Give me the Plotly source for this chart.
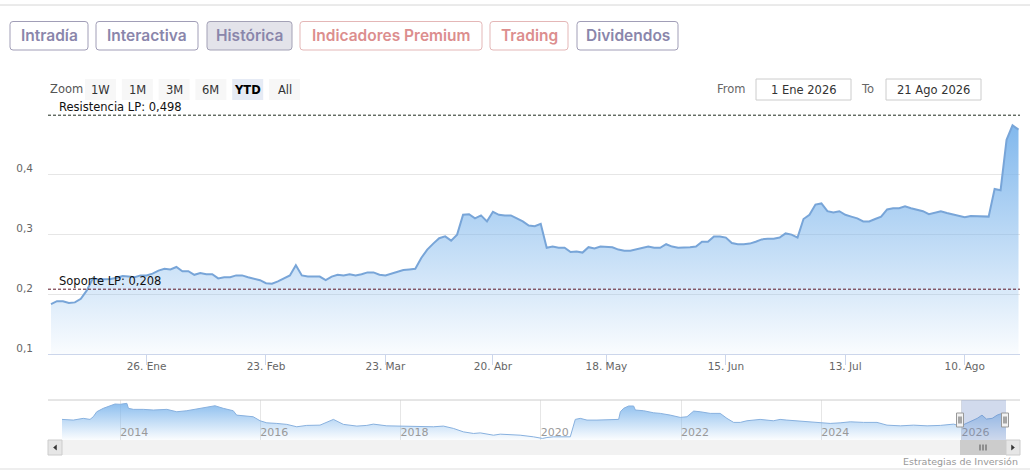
import plotly.graph_objects as go
import pandas as pd

W, H = 1034, 476
FONT = "DejaVu Sans"
TAB_FONT = "Inter"

# ------------------------------------------------------------------ data
HOLIDAYS = ["2026-01-01", "2026-04-03", "2026-04-06", "2026-05-01"]
SESSIONS = [d.strftime("%Y-%m-%d") for d in pd.bdate_range("2026-01-02", "2026-08-21")
            if d.strftime("%Y-%m-%d") not in HOLIDAYS]

PRICE = [
    0.183, 0.188, 0.188, 0.185, 0.186, 0.192, 0.206, 0.226, 0.224, 0.224,
    0.225, 0.227, 0.230, 0.229, 0.228, 0.231, 0.231, 0.234, 0.239, 0.242,
    0.241, 0.245, 0.238, 0.238, 0.232, 0.235, 0.233, 0.233, 0.226, 0.228,
    0.228, 0.231, 0.231, 0.228, 0.226, 0.223, 0.218, 0.217, 0.221, 0.226,
    0.231, 0.248, 0.231, 0.229, 0.229, 0.229, 0.223, 0.229, 0.232, 0.231,
    0.233, 0.231, 0.233, 0.236, 0.236, 0.232, 0.231, 0.234, 0.238, 0.240,
    0.241, 0.242, 0.260, 0.274, 0.284, 0.293, 0.296, 0.289, 0.299, 0.332,
    0.333, 0.326, 0.331, 0.321, 0.337, 0.332, 0.331, 0.331, 0.326, 0.321,
    0.314, 0.313, 0.317, 0.277, 0.279, 0.277, 0.277, 0.270, 0.271, 0.269,
    0.278, 0.276, 0.279, 0.279, 0.278, 0.274, 0.272, 0.272, 0.274, 0.276,
    0.279, 0.277, 0.277, 0.283, 0.279, 0.277, 0.277, 0.278, 0.279, 0.287,
    0.287, 0.296, 0.296, 0.294, 0.285, 0.283, 0.283, 0.284, 0.287, 0.291,
    0.292, 0.292, 0.294, 0.301, 0.299, 0.294, 0.325, 0.332, 0.349, 0.351,
    0.338, 0.336, 0.338, 0.332, 0.329, 0.326, 0.321, 0.321, 0.325, 0.329,
    0.341, 0.343, 0.343, 0.346, 0.343, 0.341, 0.338, 0.333, 0.336, 0.338,
    0.335, 0.333, 0.331, 0.328, 0.330, 0.330, 0.329, 0.329, 0.375, 0.373,
    0.457, 0.481, 0.474,
]

X_TICK_DATES = ["2026-01-26", "2026-02-23", "2026-03-23", "2026-04-20",
                "2026-05-18", "2026-06-15", "2026-07-13", "2026-08-10"]
X_TICK_TEXT = ["26. Ene", "23. Feb", "23. Mar", "20. Abr",
               "18. May", "15. Jun", "13. Jul", "10. Ago"]
Y_TICKS = [0.1, 0.2, 0.3, 0.4]
Y_TICK_TEXT = ["0,1", "0,2", "0,3", "0,4"]

RESISTANCE = 0.498
SUPPORT = 0.208
RESISTANCE_LABEL = "Resistencia LP: 0,498"
SUPPORT_LABEL = "Soporte LP: 0,208"

NAV_DATES = [
    "2013-03-04", "2013-05-02", "2013-06-23", "2013-07-28", "2013-08-14", "2013-09-01",
    "2013-10-05", "2013-11-09", "2013-12-05", "2014-01-01", "2014-02-05", "2014-02-13",
    "2014-03-11", "2014-05-02", "2014-06-23", "2014-09-01", "2014-10-23", "2014-12-14",
    "2015-02-22", "2015-05-10", "2015-06-22", "2015-08-13", "2015-08-31", "2015-10-04",
    "2015-11-25", "2015-12-31", "2016-02-04", "2016-03-27", "2016-05-18", "2016-07-09",
    "2016-08-30", "2016-11-07", "2017-01-16", "2017-03-09", "2017-05-18", "2017-07-09",
    "2017-08-12", "2017-10-21", "2017-12-30", "2018-02-20", "2018-06-21", "2018-08-12",
    "2018-10-03", "2018-11-24", "2019-01-16", "2019-02-20", "2019-04-30", "2019-06-04",
    "2019-08-12", "2019-09-16", "2019-11-24", "2020-01-10", "2020-02-02", "2020-03-07",
    "2020-06-03", "2020-06-29", "2020-07-25", "2020-08-29", "2020-10-20", "2020-12-11",
    "2021-02-10", "2021-02-19", "2021-03-08", "2021-04-03", "2021-04-29", "2021-05-08",
    "2021-06-20", "2021-08-11", "2021-09-15", "2021-11-06", "2021-12-11", "2021-12-28",
    "2022-02-01", "2022-03-08", "2022-04-11", "2022-06-02", "2022-07-24", "2022-08-28",
    "2022-10-02", "2022-11-06", "2022-12-10", "2023-02-17", "2023-04-27", "2023-06-01",
    "2023-07-06", "2023-08-27", "2023-11-05", "2023-12-27", "2024-02-17", "2024-04-09",
    "2024-06-01", "2024-08-09", "2024-10-18", "2024-12-09", "2025-02-17", "2025-04-27",
    "2025-07-06", "2025-09-13", "2025-11-21", "2025-12-27", "2026-02-17", "2026-03-24",
    "2026-04-18", "2026-05-11", "2026-06-10", "2026-07-06", "2026-07-31", "2026-08-12",
    "2026-08-21",
]
NAV_VALUES = [
    0.270, 0.262, 0.282, 0.270, 0.301, 0.359, 0.399, 0.426, 0.449, 0.446,
    0.457, 0.399, 0.387, 0.387, 0.379, 0.387, 0.359, 0.371, 0.399, 0.429,
    0.399, 0.371, 0.320, 0.309, 0.301, 0.254, 0.230, 0.223, 0.212, 0.184,
    0.200, 0.203, 0.270, 0.212, 0.192, 0.200, 0.215, 0.195, 0.192, 0.195,
    0.184, 0.192, 0.165, 0.125, 0.106, 0.113, 0.086, 0.098, 0.095, 0.086,
    0.067, 0.048, 0.059, 0.067, 0.067, 0.270, 0.282, 0.262, 0.262, 0.262,
    0.270, 0.359, 0.399, 0.426, 0.426, 0.379, 0.371, 0.347, 0.340, 0.320,
    0.301, 0.293, 0.301, 0.367, 0.359, 0.340, 0.340, 0.282, 0.235, 0.235,
    0.254, 0.270, 0.254, 0.270, 0.262, 0.254, 0.242, 0.235, 0.223, 0.230,
    0.242, 0.235, 0.235, 0.203, 0.195, 0.203, 0.195, 0.200, 0.215, 0.192,
    0.242, 0.282, 0.320, 0.274, 0.282, 0.320, 0.340, 0.332, 0.344,
]
NAV_YEAR_TICKS = ["2014-01-01", "2016-01-01", "2018-01-01", "2020-01-01",
                  "2022-01-01", "2024-01-01", "2026-01-01"]
NAV_YEAR_TEXT = ["2014", "2016", "2018", "2020", "2022", "2024", "2026"]
SELECTED_FROM = "2026-01-01"

TABS = ["Intradía", "Interactiva", "Histórica", "Indicadores Premium", "Trading", "Dividendos"]
TAB_KIND = ["lav", "lav", "active", "sal", "sal", "lav"]
ZOOM_BUTTONS = ["1W", "1M", "3M", "6M", "YTD", "All"]
ZOOM_SELECTED = "YTD"
FROM_TEXT = "1 Ene 2026"
TO_TEXT = "21 Ago 2026"
CREDIT = "Estrategias de Inversión"

# ------------------------------------------------------------------ layout helpers (pixels -> paper)
def X(px):
    return px / W


def Y(py):
    return 1 - py / H


shapes = []
annotations = []


def rect(x0, y0, x1, y1, fill, line=None, lw=1):
    shapes.append(dict(type="rect", xref="paper", yref="paper",
                       x0=X(x0), x1=X(x1), y0=Y(y1), y1=Y(y0),
                       fillcolor=fill, line=dict(color=line or fill, width=lw if line else 0),
                       layer="above"))


def rrect(x0, y0, x1, y1, r, fill, line, lw=1):
    p = (f"M {X(x0 + r)},{Y(y0)} L {X(x1 - r)},{Y(y0)} Q {X(x1)},{Y(y0)} {X(x1)},{Y(y0 + r)} "
         f"L {X(x1)},{Y(y1 - r)} Q {X(x1)},{Y(y1)} {X(x1 - r)},{Y(y1)} "
         f"L {X(x0 + r)},{Y(y1)} Q {X(x0)},{Y(y1)} {X(x0)},{Y(y1 - r)} "
         f"L {X(x0)},{Y(y0 + r)} Q {X(x0)},{Y(y0)} {X(x0 + r)},{Y(y0)} Z")
    shapes.append(dict(type="path", xref="paper", yref="paper", path=p,
                       fillcolor=fill, line=dict(color=line, width=lw), layer="above"))


def hline(x0, x1, py, color, width=1, dash=None):
    shapes.append(dict(type="line", xref="paper", yref="paper",
                       x0=X(x0), x1=X(x1), y0=Y(py), y1=Y(py),
                       line=dict(color=color, width=width, dash=dash), layer="above"))


def vline(px, y0, y1, color, width=1):
    shapes.append(dict(type="line", xref="paper", yref="paper",
                       x0=X(px), x1=X(px), y0=Y(y0), y1=Y(y1),
                       line=dict(color=color, width=width), layer="above"))


def tri(points, color):
    p = "M " + " L ".join(f"{X(a)},{Y(b)}" for a, b in points) + " Z"
    shapes.append(dict(type="path", xref="paper", yref="paper", path=p,
                       fillcolor=color, line=dict(color=color, width=0.5), layer="above"))


def text(px, py, s, size, color, anchor="left", family=FONT, weight="normal"):
    annotations.append(dict(x=X(px), y=Y(py), xref="paper", yref="paper", text=s,
                            showarrow=False, xanchor=anchor, yanchor="middle",
                            font=dict(family=family, size=size, color=color, weight=weight)))


# ------------------------------------------------------------------ figure
PLOT_L, PLOT_R = 48, 1020
PLOT_T, PLOT_B = 114, 354
NAV_L, NAV_R = 62, 1006
NAV_T, NAV_B = 400, 440

fig = go.Figure()

fig.add_trace(go.Scatter(
    x=SESSIONS, y=PRICE, mode="lines", xaxis="x", yaxis="y",
    line=dict(color="#78a5d8", width=2),
    fill="tozeroy",
    fillgradient=dict(type="vertical", start=0.1, stop=0.5,
                      colorscale=[[0, "rgba(124,181,236,0.04)"], [1, "rgba(124,181,236,1)"]]),
    hoverinfo="skip",
))

fig.add_trace(go.Scatter(
    x=NAV_DATES, y=NAV_VALUES, mode="lines", xaxis="x2", yaxis="y2",
    line=dict(color="#88b1df", width=1),
    fill="tozeroy",
    fillgradient=dict(type="vertical", start=0.03, stop=0.496,
                      colorscale=[[0, "rgba(124,181,236,0.03)"], [1, "rgba(124,181,236,0.95)"]]),
    hoverinfo="skip",
))

# support / resistance plot lines
for val, col in [(RESISTANCE, "#1d2b1d"), (SUPPORT, "#5e1626")]:
    shapes.append(dict(type="line", xref="x domain", yref="y", x0=0, x1=1, y0=val, y1=val,
                       line=dict(color=col, width=1, dash="3px,2px"), layer="above"))
text(57, 107, RESISTANCE_LABEL, 11.5, "#111")
text(57, 281, SUPPORT_LABEL, 11.5, "#111")

# top separator + tabs
hline(0, 1030, 5, "#d6d6d6")
TAB_X = [(10, 88), (96, 198), (207, 292), (300, 482), (490, 568), (577, 678)]
for label, kind, (a, b) in zip(TABS, TAB_KIND, TAB_X):
    if kind == "sal":
        rrect(a, 21.5, b, 50, 3, "white", "#e4b7b7")
        col = "#dc8e8e"
    elif kind == "active":
        rrect(a, 21.5, b, 50, 3, "#e3e3ea", "#a3a1b6")
        col = "#8a86ab"
    else:
        rrect(a, 21.5, b, 50, 3, "white", "#a19eb7")
        col = "#8a86ab"
    text((a + b) / 2, 36, label, 15.5, col, anchor="center", family=TAB_FONT, weight=600)

# range selector
text(48, 89, "Zoom", 11.5, "#555")
for k, lab in enumerate(ZOOM_BUTTONS):
    cx = 100.5 + 36.8 * k
    sel = lab == ZOOM_SELECTED
    rect(cx - 15.5, 79, cx + 15.5, 100, "#e6ebf5" if sel else "#f7f7f7")
    text(cx, 89.5, f"<b>{lab}</b>" if sel else lab, 11.5, "#000" if sel else "#333", anchor="center")

text(748, 89, "From", 11.5, "#666", anchor="right")
rect(756, 79, 851, 100, "white", "#cccccc")
text(803.5, 89.5, FROM_TEXT, 11.5, "#333", anchor="center")
text(876, 89, "To", 11.5, "#666", anchor="right")
rect(886, 79, 981, 100, "white", "#cccccc")
text(933.5, 89.5, TO_TEXT, 11.5, "#333", anchor="center")

# navigator chrome
hline(PLOT_L, PLOT_R, NAV_T, "#cccccc")
shapes.append(dict(type="rect", xref="x2", yref="paper", x0=SELECTED_FROM, x1=NAV_DATES[-1],
                   y0=Y(NAV_B), y1=Y(NAV_T), fillcolor="rgba(102,133,194,0.3)",
                   line=dict(width=0), layer="above"))
for hx in (960, 1005):
    rect(hx - 3.5, 413, hx + 3.5, 427, "#f2f2f2", "#999999")
    vline(hx - 1, 416.5, 423.5, "#333", 0.8)
    vline(hx + 1, 416.5, 423.5, "#333", 0.8)

# scrollbar
rect(PLOT_L, NAV_B, PLOT_R, 455, "#f2f2f2")
rect(PLOT_L, NAV_B, NAV_L, 455, "#e6e6e6", "#cccccc")
rect(NAV_R, NAV_B, PLOT_R, 455, "#e6e6e6", "#cccccc")
rect(960, NAV_B, NAV_R, 455, "#cccccc")
tri([(53.5, 447.5), (56.5, 445), (56.5, 450)], "#333")
tri([(1014.5, 447.5), (1011.5, 445), (1011.5, 450)], "#333")
for dx in (-3, 0, 3):
    vline(983 + dx, 444.5, 450.5, "#333", 0.8)

hline(0, 1030, 469, "#dddddd")
text(1020, 461, CREDIT, 9.5, "#999", anchor="right")

fig.update_layout(
    width=W, height=H,
    margin=dict(l=0, r=0, t=0, b=0),
    paper_bgcolor="white", plot_bgcolor="rgba(0,0,0,0)",
    showlegend=False,
    shapes=shapes, annotations=annotations,
    xaxis=dict(
        domain=[X(PLOT_L), X(PLOT_R)], anchor="y", type="date",
        range=["2026-01-01 12:00", "2026-08-21 06:00"],
        rangebreaks=[dict(bounds=["sat", "mon"]),
                     dict(values=["2026-04-03", "2026-04-06", "2026-05-01"])],
        tickmode="array", tickvals=X_TICK_DATES, ticktext=X_TICK_TEXT,
        ticks="outside", ticklen=10, tickcolor="#ccd6eb", tickwidth=1,
        ticklabelstandoff=-8,
        showline=True, linecolor="#ccd6eb", linewidth=1,
        showgrid=False, zeroline=False, automargin=False, fixedrange=True,
        tickfont=dict(family=FONT, size=10.5, color="#666"),
    ),
    yaxis=dict(
        domain=[Y(PLOT_B), Y(PLOT_T)], anchor="x", range=[0.1, 0.5],
        tickmode="array", tickvals=Y_TICKS, ticktext=Y_TICK_TEXT,
        showgrid=True, gridcolor="#e6e6e6", gridwidth=1, zeroline=False,
        showline=False, ticks="", ticklabelstandoff=14, ticklabelshift=-6,
        automargin=False, fixedrange=True,
        tickfont=dict(family=FONT, size=10.5, color="#666"),
    ),
    xaxis2=dict(
        domain=[X(NAV_L), X(NAV_R)], anchor="y2", type="date",
        range=[NAV_DATES[0], NAV_DATES[-1]],
        tickmode="array", tickvals=NAV_YEAR_TICKS, ticktext=NAV_YEAR_TEXT,
        ticklabelposition="inside right", ticks="", ticklabelstandoff=-4,
        showgrid=True, gridcolor="#e6e6e6", showline=False, zeroline=False,
        automargin=False, fixedrange=True,
        tickfont=dict(family=FONT, size=11, color="#999"),
    ),
    yaxis2=dict(
        domain=[Y(NAV_B), Y(NAV_T)], anchor="x2", range=[0.03, 0.496],
        visible=False, fixedrange=True,
    ),
)

fig.write_html("out.html", config={"displayModeBar": False},
               post_script="document.body.style.margin='0';")
